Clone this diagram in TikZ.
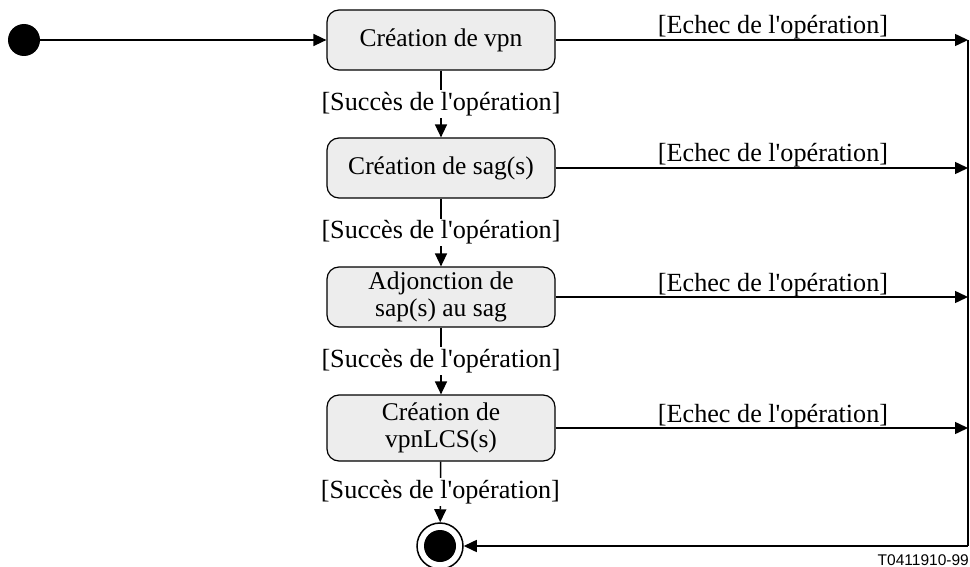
\documentclass[tikz,border=0pt]{standalone}
\usepackage{fontspec}
\setmainfont{Liberation Serif}
\newfontfamily\tagfont{Liberation Sans}
\usetikzlibrary{arrows.meta,calc}

% straight apostrophe, as printed in the guards
\newcommand{\sq}{\textquotesingle}

\tikzset{
  arr/.style={line width=1.5pt,-{Triangle[length=13pt,width=12pt]}},
  wire/.style={line width=1.5pt},
  activity/.style={draw, line width=1.2pt, fill=black!7, rounded corners=12pt,
    minimum width=228pt, inner sep=0pt, align=center,
    font=\fontsize{25.5}{27.5}\selectfont},
  guard/.style={fill=white, inner sep=2pt, font=\fontsize{26.2}{28}\selectfont},
  fail/.style={anchor=base, inner sep=0pt, font=\fontsize{26.2}{28}\selectfont},
}

\begin{document}
\begin{tikzpicture}[x=1pt,y=-1pt]
  \useasboundingbox (0,0) rectangle (970,567);

  % initial and final states
  \node[circle, fill=black, minimum size=32pt, inner sep=0pt] (start) at (24,40) {};
  \node[circle, draw, line width=1.5pt, minimum size=46pt, inner sep=0pt] (end) at (440,546) {};
  \node[circle, fill=black, minimum size=32pt, inner sep=0pt] (endin) at (end) {};

  % activities
  \node[activity, minimum height=60pt] (vpn) at (441,40) {Création de vpn};
  \node[activity, minimum height=60pt] (sag) at (441,168) {Création de sag(s)};
  \node[activity, minimum height=60pt] (sap) at (441,297) {Adjonction de\\sap(s) au sag};
  \node[activity, minimum height=66pt] (lcs) at (441,428) {Création de\\vpnLCS(s)};

  % right-hand failure rail
  \coordinate (rail) at (968,0);

  % main success flow
  \draw[arr] (start) -- (vpn);
  \draw[arr] (vpn) -- node[guard] {[Succès de l\sq opération]} (sag);
  \draw[arr] (sag) -- node[guard] {[Succès de l\sq opération]} (sap);
  \draw[arr] (sap) -- node[guard] {[Succès de l\sq opération]} (lcs);
  \draw[arr] (lcs) -- node[guard] {[Succès de l\sq opération]} (end);

  % failure branches
  \foreach \b in {vpn,sag,sap,lcs}{
    \draw[arr] (\b.east) -- (\b.east -| rail);
    \node[fail] at ($(\b.east -| rail)+(-195,-6)$) {[Echec de l\sq opération]};
  }
  \draw[wire] (vpn.east -| rail) -- (rail |- end);
  \draw[arr] (rail |- end) -- (end);

  % figure tag
  \node[anchor=base east, inner sep=0pt, font=\tagfont\fontsize{15.5}{17}\selectfont]
    (tag) at (969,565) {T0411910-99};
\end{tikzpicture}
\end{document}
